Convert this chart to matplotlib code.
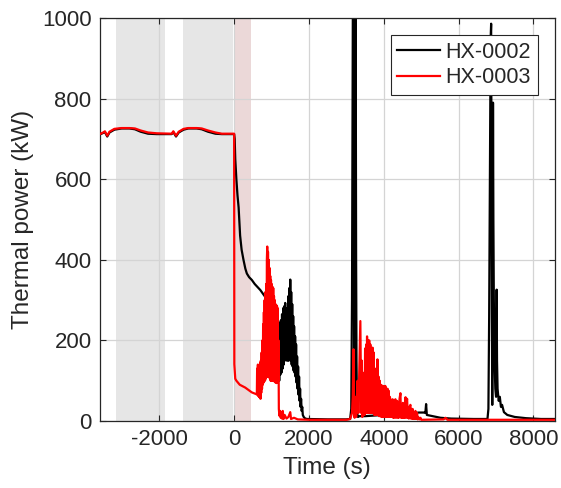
import matplotlib
matplotlib.use("Agg")
import matplotlib.pyplot as plt
import numpy as np

plt.rcParams['font.family'] = ['Liberation Sans', 'DejaVu Sans']
plt.rcParams['axes.unicode_minus'] = False

# shaded intervals (s)
gray_spans = [(-3160, -1850), (-1360, -20)]
pink_spans = [(0, 460)]

x_ticks = [-2000, 0, 2000, 4000, 6000, 8000]
y_ticks = [0, 200, 400, 600, 800, 1000]

# HX-0002 (black): (time s, power kW)
hx0002_pre = [(-3588, 711), (-3500, 715), (-3453, 717), (-3391, 706), (-3330, 716), (-3200, 723),
              (-3006, 726), (-2800, 726), (-2650, 724), (-2500, 718), (-2300, 713), (-2070, 712),
              (-1668, 712), (-1625, 717), (-1553, 706), (-1480, 716), (-1350, 723), (-1223, 726),
              (-1000, 726), (-865, 724), (-700, 718), (-500, 713), (-330, 712), (-10, 712)]
hx0002_post = [(0, 712), (15, 700), (30, 650), (60, 600), (90, 560), (120, 530), (160, 460),
               (200, 425), (250, 400), (300, 378), (340, 366), (400, 357), (473, 350), (550, 340),
               (650, 330), (700, 325), (785, 314), (830, 308), (860, 310), (900, 240), (930, 200),
               (960, 250), (990, 170), (1020, 240), (1050, 160), (1080, 230), (1110, 150),
               (1140, 240), (1170, 120), (1190, 240), (1205, 100), (1220, 244), (1235, 115),
               (1250, 250), (1265, 120), (1280, 265), (1295, 130), (1310, 280), (1325, 140),
               (1340, 285), (1355, 150), (1365, 293), (1378, 160), (1392, 270), (1405, 150),
               (1420, 280), (1435, 150), (1450, 310), (1462, 150), (1475, 330), (1488, 160),
               (1500, 351), (1512, 150), (1525, 320), (1538, 140), (1552, 290), (1565, 135),
               (1578, 260), (1590, 125), (1603, 235), (1616, 120), (1630, 210), (1643, 110),
               (1656, 190), (1670, 95), (1683, 160), (1696, 80), (1710, 135), (1723, 65),
               (1736, 110), (1750, 50), (1763, 80), (1776, 35), (1790, 55), (1805, 25), (1820, 35),
               (1835, 15), (1860, 10), (1900, 6), (1950, 5), (2500, 4), (3000, 4), (3100, 5),
               (3130, 30), (3150, 300), (3165, 800), (3175, 1100), (3190, 1100), (3200, 500),
               (3210, 60), (3220, 30), (3230, 400), (3240, 1100), (3250, 900), (3260, 400),
               (3270, 150), (3285, 20), (3310, 10), (3350, 12), (3500, 12), (3800, 14), (3990, 15),
               (4000, 86), (4010, 86), (4030, 15), (4300, 16), (4600, 18), (4935, 21), (5068, 21),
               (5110, 20), (5130, 42), (5150, 15), (5300, 12), (5514, 8), (5800, 6), (6400, 5),
               (6770, 5), (6795, 30), (6815, 260), (6835, 600), (6855, 950), (6868, 986),
               (6878, 600), (6888, 268), (6898, 40), (6908, 268), (6918, 790), (6928, 500),
               (6940, 300), (6960, 150), (6980, 80), (7000, 60), (7015, 326), (7025, 150),
               (7040, 80), (7070, 50), (7100, 60), (7130, 35), (7160, 40), (7210, 22), (7300, 15),
               (7500, 10), (7800, 7), (8200, 5), (8570, 5)]

# HX-0003 (red): (time s, power kW)
hx0003_pre = [(-3588, 712), (-3500, 716), (-3453, 719), (-3391, 708), (-3330, 718), (-3200, 725),
              (-3006, 727), (-2800, 727), (-2650, 726), (-2500, 721), (-2300, 716), (-2070, 714),
              (-1668, 713), (-1625, 719), (-1553, 708), (-1480, 718), (-1350, 725), (-1223, 727),
              (-1000, 727), (-865, 726), (-700, 721), (-500, 716), (-330, 713), (-10, 713)]
hx0003_post = [(0, 713), (5, 141), (30, 105), (60, 100), (150, 90), (295, 83), (473, 71),
               (607, 66), (615, 130), (625, 65), (635, 140), (645, 62), (655, 120), (665, 60),
               (675, 135), (685, 58), (695, 145), (705, 55), (715, 150), (725, 70), (735, 170),
               (745, 80), (755, 200), (765, 90), (775, 240), (785, 95), (795, 270), (805, 100),
               (815, 300), (825, 100), (835, 320), (845, 105), (855, 340), (865, 110), (875, 400),
               (885, 433), (895, 110), (905, 420), (915, 110), (925, 400), (935, 110), (945, 380),
               (955, 105), (965, 360), (975, 100), (985, 350), (995, 100), (1005, 340), (1015, 100),
               (1025, 333), (1035, 100), (1045, 330), (1055, 100), (1065, 310), (1075, 98),
               (1085, 300), (1095, 96), (1105, 290), (1115, 96), (1125, 288), (1135, 94),
               (1145, 285), (1155, 96), (1165, 280), (1175, 100), (1185, 200), (1195, 30),
               (1210, 13), (1230, 25), (1245, 8), (1260, 20), (1280, 6), (1300, 25), (1320, 5),
               (1350, 15), (1400, 6), (1450, 10), (1500, 22), (1520, 5), (1600, 8), (1700, 4),
               (2000, 3), (3000, 3), (3100, 5), (3150, 20), (3170, 60), (3190, 178), (3205, 30),
               (3220, 8), (3240, 60), (3260, 10), (3300, 100), (3320, 20), (3350, 150), (3373, 248),
               (3395, 20), (3410, 150), (3425, 10), (3440, 120), (3455, 15), (3470, 100),
               (3485, 15), (3500, 180), (3515, 20), (3530, 190), (3545, 20), (3552, 210),
               (3565, 20), (3580, 200), (3595, 20), (3610, 200), (3625, 20), (3640, 190), (3655, 20),
               (3670, 150), (3685, 20), (3700, 182), (3715, 20), (3730, 170), (3745, 15), (3760, 120),
               (3775, 15), (3790, 130), (3805, 15), (3830, 153), (3845, 15), (3860, 110), (3875, 12),
               (3890, 100), (3905, 12), (3920, 90), (3935, 10), (3950, 88), (3965, 10), (3980, 87),
               (3995, 10), (4010, 85), (4025, 10), (4040, 87), (4055, 10), (4070, 80), (4085, 10),
               (4100, 80), (4115, 10), (4130, 75), (4145, 10), (4160, 60), (4175, 54), (4190, 10),
               (4205, 50), (4220, 10), (4235, 54), (4250, 8), (4265, 45), (4280, 8), (4295, 50),
               (4310, 54), (4325, 8), (4340, 48), (4355, 50), (4370, 8), (4385, 45), (4400, 8),
               (4420, 55), (4444, 69), (4460, 8), (4475, 40), (4490, 8), (4510, 45), (4525, 8),
               (4540, 40), (4555, 8), (4580, 59), (4595, 8), (4610, 50), (4623, 55), (4640, 8),
               (4655, 35), (4670, 6), (4690, 35), (4711, 40), (4725, 6), (4740, 30), (4755, 6),
               (4770, 30), (4785, 5), (4800, 20), (4815, 5), (4845, 25), (4860, 5), (4875, 18),
               (4890, 20), (4905, 4), (4920, 10), (4950, 4), (4980, 8), (5000, 3), (5600, 4),
               (5650, 8), (5700, 3), (8570, 3)]

text_color = '#262626'

fig = plt.figure(figsize=(5.61, 4.88), dpi=100)
ax = fig.add_axes([0.178, 0.1373, 0.811, 0.8257])

for a, b in gray_spans:
    ax.axvspan(a, b, color='#e6e6e6', lw=0, zorder=0.1)
for a, b in pink_spans:
    ax.axvspan(a, b, color='#ebd8d8', lw=0, zorder=0.1)

ax.set_axisbelow(True)
ax.grid(True, color='#d4d4d4', lw=0.9)

def series(pre, post):
    pts = pre + post
    t = np.array([p[0] for p in pts], dtype=float)
    v = np.array([p[1] for p in pts], dtype=float)
    return t, v

t2, p2 = series(hx0002_pre, hx0002_post)
t3, p3 = series(hx0003_pre, hx0003_post)
ax.plot(t2, p2, color='black', lw=1.6, label='HX-0002', zorder=2)
ax.plot(t3, p3, color='#ff0000', lw=1.6, label='HX-0003', zorder=3)

ax.set_xlim(-3588, 8570)
ax.set_ylim(0, 1000)
ax.set_xticks(x_ticks)
ax.set_yticks(y_ticks)
ax.tick_params(direction='in', top=True, right=True, labelsize=16, colors=text_color,
               length=4, width=0.8, pad=6)
for s in ax.spines.values():
    s.set_color(text_color)
    s.set_linewidth(0.9)
ax.set_xlabel('Time (s)', fontsize=17.5, color=text_color, labelpad=5)
ax.set_ylabel('Thermal power (kW)', fontsize=17.5, color=text_color, labelpad=6)

leg = ax.legend(loc='upper right', fontsize=15.5, frameon=True, fancybox=False,
                handlelength=2.0, handletextpad=0.25, borderpad=0.3, labelspacing=0.2,
                borderaxespad=0.8)
leg.get_frame().set_edgecolor(text_color)
leg.get_frame().set_linewidth(0.8)
leg.get_frame().set_alpha(1)
for txt in leg.get_texts():
    txt.set_color(text_color)

fig.savefig('out.png', dpi=100)
